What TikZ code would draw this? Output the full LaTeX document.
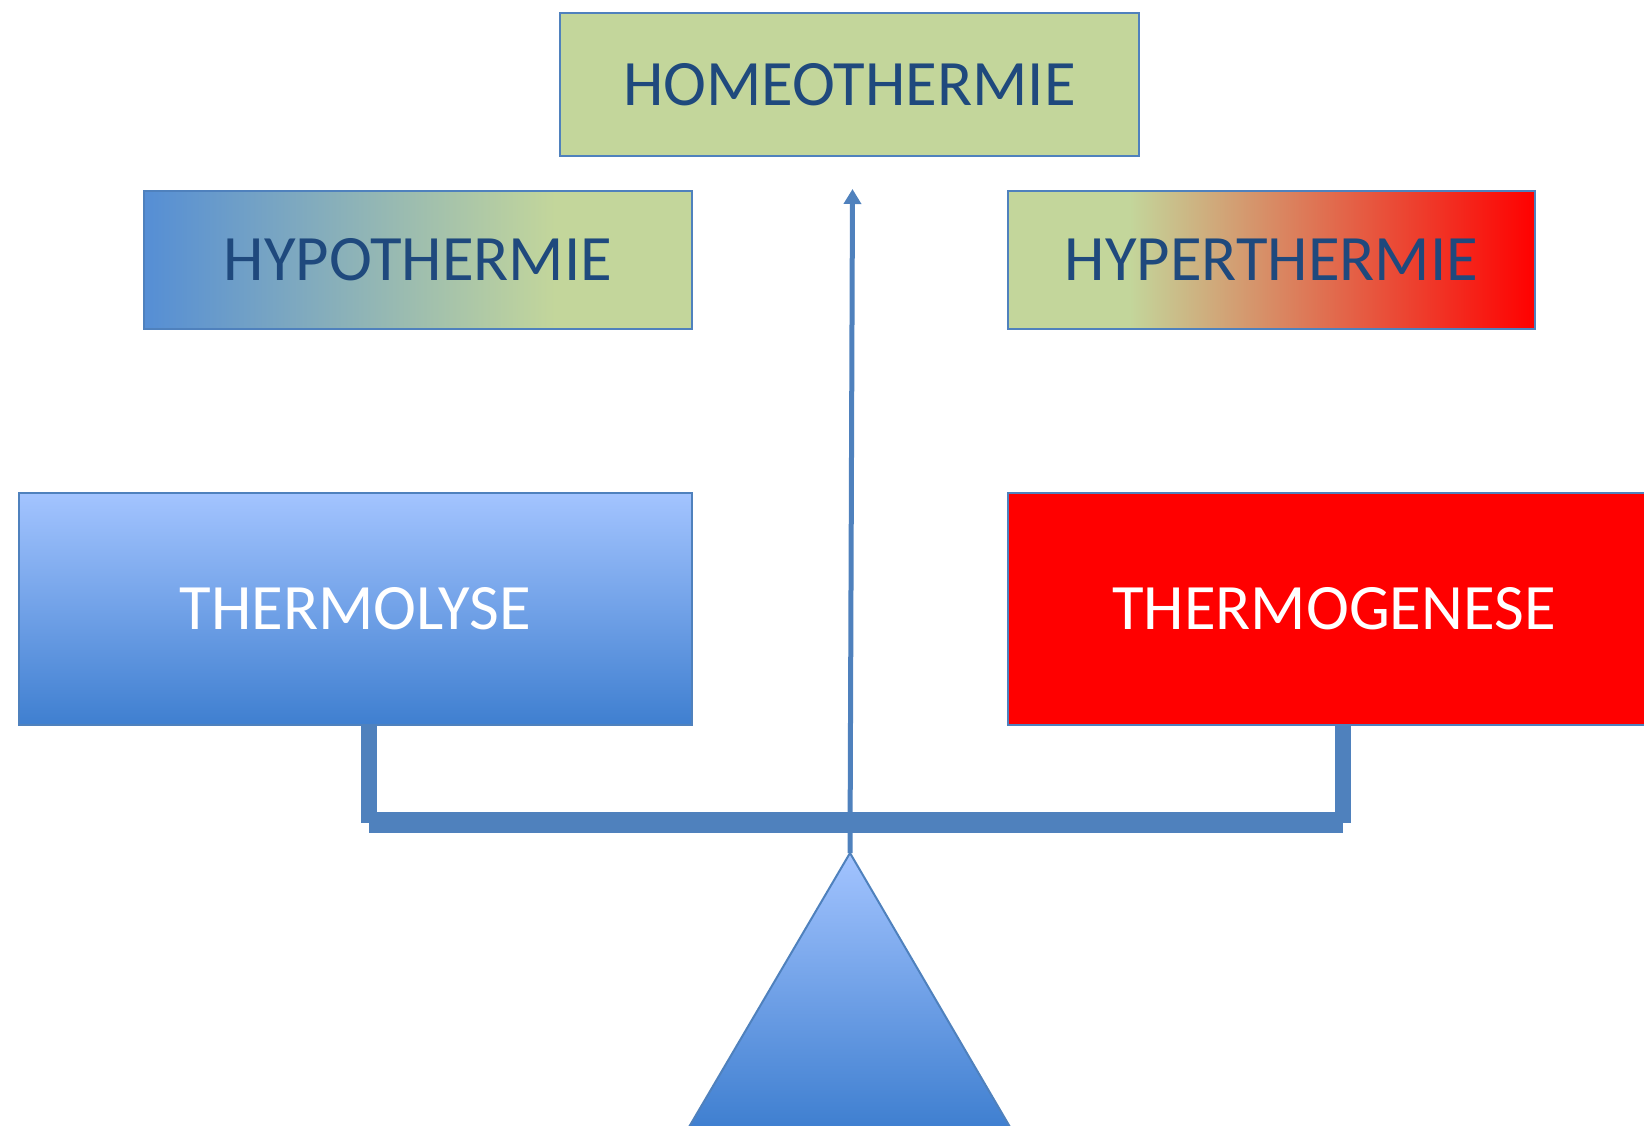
\documentclass[tikz,border=0pt]{standalone}
\usepackage{fontspec}
\setmainfont{Carlito}
\usetikzlibrary{arrows.meta}
\definecolor{edgeblue}{HTML}{4F81BD}
\definecolor{txtblue}{HTML}{1F497D}
\definecolor{leafgreen}{HTML}{C3D69B}
\definecolor{hypoblue}{HTML}{558ED5}
\definecolor{lightblue}{HTML}{A3C4FF}
\definecolor{deepblue}{HTML}{3F7FD0}
\definecolor{hotred}{HTML}{FF0000}
\pgfdeclarehorizontalshading{hyposhade}{100bp}{color(0bp)=(hypoblue); color(25bp)=(hypoblue); color(62.5bp)=(leafgreen); color(100bp)=(leafgreen)}
\pgfdeclarehorizontalshading{hypershade}{100bp}{color(0bp)=(leafgreen); color(36.5bp)=(leafgreen); color(75bp)=(hotred); color(100bp)=(hotred)}
\tikzset{
  box/.style={draw=edgeblue, line width=2bp, inner sep=0pt, font=\fontsize{65}{74}\selectfont},
  toptext/.style={text=txtblue},
  lowtext/.style={text=white},
  beam/.style={draw=edgeblue, line width=21bp},
  post/.style={draw=edgeblue, line width=16bp},
}
\begin{document}
\begin{tikzpicture}[x=1bp,y=-1bp]
\useasboundingbox (0,0) rectangle (1644,1125);
\clip (0,0) rectangle (1644,1125);
\node[box, toptext, fill=leafgreen, minimum width=579bp, minimum height=143bp] (homeo) at (849.5,84.5) {HOMEOTHERMIE};
\node[box, toptext, shading=hyposhade, minimum width=548bp, minimum height=138bp] (hypo) at (418,260) {HYPOTHERMIE};
\node[box, toptext, shading=hypershade, minimum width=527bp, minimum height=138bp] (hyper) at (1271.5,260) {HYPERTHERMIE};
\node[box, lowtext, top color=lightblue, bottom color=deepblue, minimum width=673bp, minimum height=232bp] (lyse) at (355.5,609) {THERMOLYSE};
\node[box, lowtext, fill=hotred, minimum width=652bp, minimum height=232bp] (gen) at (1334,609) {THERMOGENESE};
\coordinate (bl) at (369,822.5);
\coordinate (br) at (1343,822.5);
\draw[post] (lyse.south -| bl) -- (bl);
\draw[post] (gen.south -| br) -- (br);
\draw[beam] (bl) -- (br);
\coordinate (apex) at (850,853);
\coordinate (tip) at (852.5,189);
\path[draw=edgeblue, line width=2bp, top color=lightblue, bottom color=deepblue] (apex) -- (1010,1127) -- (689,1127) -- cycle;
\draw[edgeblue, line width=5bp, -{Triangle[width=17bp,length=15bp]}] (apex) -- (tip);
\end{tikzpicture}
\end{document}
